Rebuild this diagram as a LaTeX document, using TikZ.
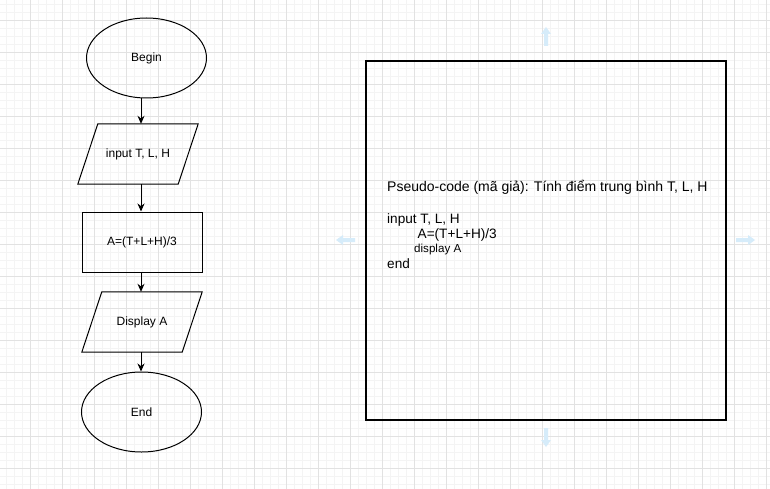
\documentclass[tikz,border=0pt]{standalone}
\usepackage{fontspec}
\setmainfont{Liberation Sans}
\usetikzlibrary{arrows.meta,calc,shapes.geometric}
\definecolor{gridminor}{RGB}{244,244,244}
\definecolor{gridmajor}{RGB}{226,226,226}
\definecolor{hoverblue}{RGB}{214,236,250}
\tikzset{
  x=1pt,y=-1pt,
  every node/.style={font=\fontsize{12}{14}\selectfont, inner sep=0pt},
  flowline/.style={line width=1pt, draw=black},
  flow/.style={line width=1pt, -{Stealth[length=8pt,width=7pt]}},
  termbox/.style={ellipse, draw, line width=1pt, minimum width=120pt, minimum height=80pt},
  procbox/.style={rectangle, draw, line width=1pt, minimum width=120pt, minimum height=60pt},
  iobox/.style={rectangle, minimum width=120pt, minimum height=60pt},
  codetext/.style={anchor=base west, font=\fontsize{13.6}{16}\selectfont},
  hover/.pic={\fill[hoverblue] (0,-10) -- (5,-3) -- (2,-3) -- (2,9) -- (-2,9) -- (-2,-3) -- (-5,-3) -- cycle;}
}
\begin{document}
\begin{tikzpicture}
\useasboundingbox (0,0) rectangle (770,489);
\fill[white] (0,0) rectangle (770,489);
% grid
\foreach \gx in {6,14,...,766} \draw[gridminor, line width=0.6pt] (\gx,0) -- (\gx,489);
\foreach \gy in {4,12,...,484} \draw[gridminor, line width=0.6pt] (0,\gy) -- (770,\gy);
\foreach \gx in {30,62,...,766} \draw[gridmajor, line width=0.7pt] (\gx,0) -- (\gx,489);
\foreach \gy in {20,52,...,468} \draw[gridmajor, line width=0.7pt] (0,\gy) -- (770,\gy);

% hover arrows around the big box
\pic at (546,37) {hover};
\pic[rotate=180] at (546,437) {hover};
\pic[rotate=90] at (346,240) {hover};
\pic[rotate=-90] at (745,240) {hover};

% flowchart
\coordinate (ax) at (141,0);
\node[termbox] (begin) at (146.5,58) {Begin};
\node[iobox] (input) at (138,154) {input T, L, H};
\draw[flowline] (input.south west) -- ($(input.north west)+(20,0)$) -- (input.north east) -- ($(input.south east)+(-20,0)$) -- cycle;
\node[procbox] (calc) at (142,242) {A=(T+L+H)/3};
\node[iobox] (disp) at (142,322) {Display A};
\draw[flowline] (disp.south west) -- ($(disp.north west)+(20,0)$) -- (disp.north east) -- ($(disp.south east)+(-20,0)$) -- cycle;
\node[termbox] (end) at (141.5,412) {End};

\draw[flow] (begin.south -| ax) -- (input.north -| ax);
\draw[flow] (input.south -| ax) -- (calc.north -| ax);
\draw[flow] (calc.south -| ax) -- (disp.north -| ax);
\draw[flow] (disp.south -| ax) -- (end.north -| ax);

% pseudo-code box
\node[draw, line width=1.4pt, minimum width=360pt, minimum height=359pt] (codebox) at (546,240.5) {};
\node[codetext, font=\fontsize{14}{16}\selectfont] (title) at (387,191) {Pseudo-code (mã giả): Tính điểm trung bình T, L, H};
\node[codetext] (l1) at (387,223.5) {input T, L, H};
\node[codetext] (l2) at (417.5,238.5) {A=(T+L+H)/3};
\node[codetext, font=\fontsize{11.6}{13}\selectfont] (l3) at (414,252) {display A};
\node[codetext] (l4) at (387,268) {end};
\end{tikzpicture}
\end{document}
